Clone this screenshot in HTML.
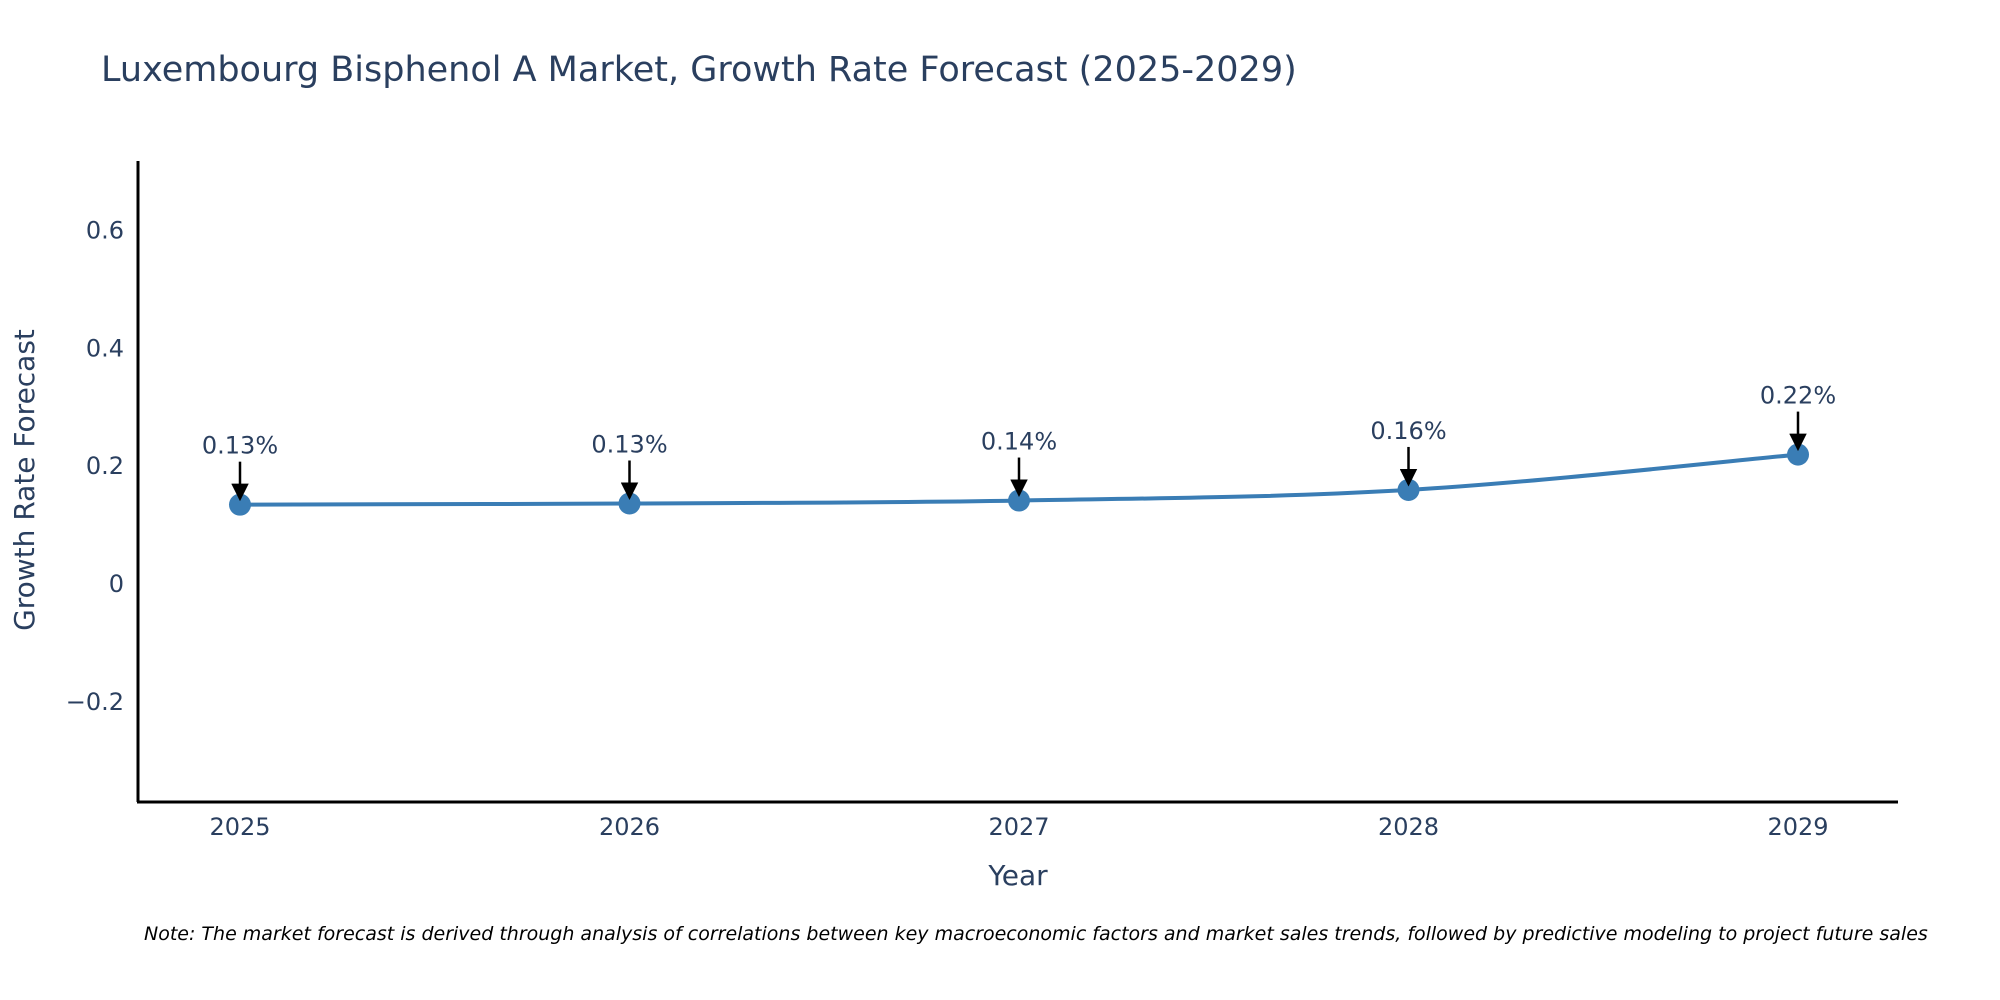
<!DOCTYPE html>
<html><head><meta charset="utf-8"><style>
body{margin:0;background:#fff;}
svg{display:block;font-family:"DejaVu Sans","Liberation Sans",sans-serif;}
</style></head><body>
<svg id="chart" width="2000" height="1000" viewBox="0 0 2000 1000">
<defs><marker id="ah" markerWidth="7" markerHeight="7" refX="6" refY="3.5" orient="auto" markerUnits="strokeWidth"><path d="M0,0 L7,3.5 L0,7 z" fill="#000"/></marker></defs>
<text x="101" y="81" font-size="35" fill="#2a3f5f">Luxembourg Bisphenol A Market, Growth Rate Forecast (2025-2029)</text>
<g id="yticks"></g><g id="xticks"></g>
<line x1="138" y1="161" x2="138" y2="802" stroke="#000" stroke-width="3"/>
<line x1="137" y1="802" x2="1898" y2="802" stroke="#000" stroke-width="3"/>
<text transform="translate(34,480) rotate(-90)" text-anchor="middle" font-size="28" fill="#2a3f5f">Growth Rate Forecast</text>
<text x="1018" y="885" text-anchor="middle" font-size="28" fill="#2a3f5f">Year</text>
<g id="series"></g>
<text x="144" y="940" font-size="19" font-style="italic" fill="#000">Note: The market forecast is derived through analysis of correlations between key macroeconomic factors and market sales trends, followed by predictive modeling to project future sales</text>
</svg>
<script>
const years = [2025, 2026, 2027, 2028, 2029];
const growth = [0.133, 0.135, 0.140, 0.158, 0.218];
const labels = ["0.13%", "0.13%", "0.14%", "0.16%", "0.22%"];
const yTickVals = [-0.2, 0, 0.2, 0.4, 0.6];
const yTickLabels = ["\u22120.2", "0", "0.2", "0.4", "0.6"];
const NS = "http://www.w3.org/2000/svg";
function xS(v){return 240 + (v - 2025) * 389.5;}
function yS(v){return 583 - v * 589;}
function mk(tag, attrs, parent){const e=document.createElementNS(NS,tag);for(const k in attrs)e.setAttribute(k,attrs[k]);parent.appendChild(e);return e;}
const yt=document.getElementById('yticks'), xt=document.getElementById('xticks'), sg=document.getElementById('series');
yTickVals.forEach((v,i)=>{
  const t=mk('text',{x:124,y:yS(v)+9,'text-anchor':'end','font-size':24,fill:'#2a3f5f'},yt);
  
  
  t.textContent=yTickLabels[i];
});
years.forEach(y=>{
  const t=mk('text',{x:xS(y),y:835,'text-anchor':'middle','font-size':24,fill:'#2a3f5f'},xt);
  
  
  t.textContent=String(y);
});
const pts=years.map((y,i)=>[xS(y),yS(growth[i])]);
let d=`M${pts[0][0]},${pts[0][1]}`;
for(let i=0;i<pts.length-1;i++){
  const p0=pts[Math.max(0,i-1)],p1=pts[i],p2=pts[i+1],p3=pts[Math.min(pts.length-1,i+2)];
  const t=0.5/3;
  d+=` C${p1[0]+(p2[0]-p0[0])*t},${p1[1]+(p2[1]-p0[1])*t} ${p2[0]-(p3[0]-p1[0])*t},${p2[1]-(p3[1]-p1[1])*t} ${p2[0]},${p2[1]}`;
}
const line=mk('path',{d:d,fill:'none',stroke:'#3a7db5','stroke-width':4},sg);


pts.forEach((p,i)=>{
  const c=mk('circle',{cx:p[0],cy:p[1],r:11,fill:'#3a7db5'},sg);
  
  
});
pts.forEach((p,i)=>{
  const a=mk('line',{x1:p[0],y1:p[1]-43,x2:p[0],y2:p[1]-6,stroke:'#000','stroke-width':2.5,'marker-end':'url(#ah)'},sg);
  
  
  const t=mk('text',{x:p[0],y:p[1]-51,'text-anchor':'middle','font-size':24,fill:'#2a3f5f'},sg);
  
  
  t.textContent=labels[i];
});
</script>
</body></html>
